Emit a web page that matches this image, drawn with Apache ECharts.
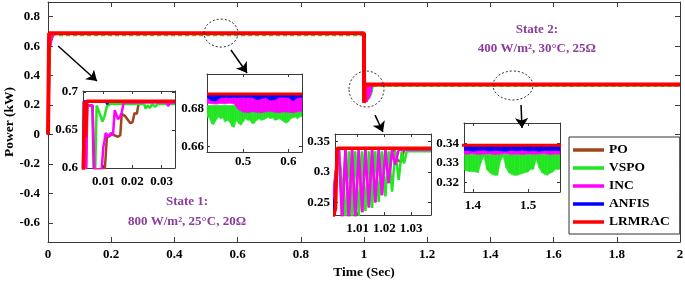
<!DOCTYPE html>
<html>
<head>
<meta charset="utf-8">
<title>MPPT power comparison</title>
<script src="https://cdn.jsdelivr.net/npm/echarts@6/dist/echarts.min.js"></script>
<style>
  html, body { margin: 0; padding: 0; background: #fff; }
  #chart { width: 685px; height: 281px; }
</style>
</head>
<body>
<div id="chart"></div>
<script>
var FONT = '"Liberation Serif", "Times New Roman", serif';
var methods = ['PO', 'VSPO', 'INC', 'ANFIS', 'LRMRAC'];
var colors = ['#a0461e', '#22e622', '#ff00ff', '#0000ff', '#ff0000'];

// ticks / labels
var mainX = [0, 0.2, 0.4, 0.6, 0.8, 1, 1.2, 1.4, 1.6, 1.8, 2];
var mainY = [-0.6, -0.4, -0.2, 0, 0.2, 0.4, 0.6, 0.8];
var in1X = [0.01, 0.02, 0.03], in1Y = [0.6, 0.65, 0.7];
var in2X = [0.5, 0.6], in2Y = [0.66, 0.68];
var in3X = [1.01, 1.02, 1.03], in3Y = [0.25, 0.3, 0.35];
var in4X = [1.4, 1.5], in4Y = [0.32, 0.33, 0.34];

// start-up transient, [time s, power kW]
var startPO = [[0.0040,0.600],[0.0044,0.682],[0.0062,0.682],[0.0067,0.598],[0.0105,0.598],[0.0112,0.640],[0.0130,0.644],[0.0150,0.641],[0.0158,0.643],[0.0163,0.671],[0.0175,0.668],[0.0192,0.659],[0.0200,0.660],[0.0207,0.672],[0.0215,0.671],[0.0222,0.687],[0.0346,0.687]];
var startVSPO = [[0.0072,0.598],[0.0077,0.682],[0.0081,0.683],[0.0097,0.661],[0.0104,0.668],[0.0112,0.681],[0.0118,0.679],[0.0124,0.684],[0.0240,0.684],[0.0245,0.678],[0.0252,0.682],[0.0260,0.679],[0.0268,0.684],[0.0278,0.680],[0.0285,0.684],[0.0346,0.684]];
var startINC = [[0.0041,0.598],[0.0045,0.682],[0.0063,0.682],[0.0069,0.598],[0.0094,0.598],[0.0100,0.628],[0.0104,0.636],[0.0108,0.646],[0.0118,0.641],[0.0126,0.646],[0.0133,0.643],[0.0139,0.676],[0.0144,0.678],[0.0150,0.664],[0.0157,0.667],[0.0163,0.673],[0.0170,0.686],[0.0318,0.686],[0.0322,0.681],[0.0328,0.685],[0.0346,0.686]];
var startANFIS = [[0.0030,0.600],[0.0033,0.6872],[0.0110,0.6872],[0.0113,0.6835],[0.0117,0.6872],[0.0346,0.6872]];
var startLRMRAC = [[0.0031,0.590],[0.0035,0.6875],[0.0039,0.640],[0.0043,0.6875],[0.0346,0.6875]];

// load / irradiance step at 1 s
var stepPO = [[1.0,0.687],[1.0002,0.232],[1.0018,0.300],[1.0030,0.336],[1.0042,0.221],[1.0054,0.336],[1.0067,0.221],[1.0079,0.336],[1.0091,0.223],[1.0104,0.336],[1.0117,0.234],[1.0129,0.336],[1.0142,0.242],[1.0154,0.336],[1.0166,0.250],[1.0179,0.336],[1.0191,0.262],[1.0204,0.336],[1.0216,0.282],[1.0229,0.336],[1.0240,0.334],[1.0250,0.319],[1.0264,0.317],[1.0274,0.337],[1.0375,0.337]];
var stepVSPO = [[1.0,0.684],[1.0003,0.236],[1.0020,0.305],[1.0030,0.334],[1.0054,0.224],[1.0067,0.334],[1.0079,0.224],[1.0091,0.334],[1.0104,0.228],[1.0117,0.334],[1.0129,0.236],[1.0142,0.334],[1.0154,0.241],[1.0166,0.334],[1.0179,0.251],[1.0191,0.334],[1.0204,0.260],[1.0216,0.334],[1.0229,0.268],[1.0241,0.334],[1.0254,0.287],[1.0265,0.334],[1.0274,0.314],[1.0284,0.334],[1.0375,0.334]];
var stepINC = [[1.0,0.686],[1.0002,0.232],[1.0018,0.300],[1.0030,0.336],[1.0042,0.221],[1.0054,0.336],[1.0067,0.221],[1.0079,0.336],[1.0091,0.223],[1.0104,0.336],[1.0117,0.234],[1.0129,0.336],[1.0142,0.242],[1.0154,0.336],[1.0166,0.250],[1.0179,0.336],[1.0191,0.262],[1.0204,0.336],[1.0216,0.282],[1.0229,0.336],[1.0241,0.312],[1.0254,0.3365],[1.0375,0.3365]];
var stepANFIS = [[1.0,0.6872],[1.0001,0.222],[1.0016,0.262],[1.0024,0.3385],[1.0200,0.3385],[1.0206,0.3368],[1.0216,0.3385],[1.0375,0.3385]];
var stepLRMRAC = [[1.0,0.6875],[1.0001,0.215],[1.0017,0.240],[1.0023,0.339],[1.0375,0.339]];

var level1 = [0.687, 0.684, 0.686, 0.6872, 0.6875];
var level2 = [0.337, 0.334, 0.3365, 0.3385, 0.339];

// VSPO ripple as seen at full scale
var vspoRipple1 = [[0.035,0.673],[0.999,0.673]];
var vspoRipple2 = [[1.03,0.328],[2.0,0.328]];

// steady ripple window 1 (state 1)
var win1Fine = [0.420,0.425,0.430,0.435,0.440,0.445,0.450,0.455,0.460,0.465,0.470,0.475,0.480,0.485,0.490,0.495,0.500,0.505,0.510,0.515,0.520,0.525,0.530,0.535,0.540,0.545,0.550,0.555,0.560,0.565,0.570,0.575,0.580,0.585,0.590,0.595,0.600,0.605,0.610,0.615,0.620,0.625,0.630];
var vspoLow1 = [0.6754,0.6750,0.6719,0.6715,0.6737,0.6754,0.6745,0.6750,0.6728,0.6737,0.6728,0.6705,0.6700,0.6737,0.6720,0.6711,0.6728,0.6745,0.6737,0.6737,0.6719,0.6722,0.6737,0.6745,0.6737,0.6740,0.6745,0.6754,0.6745,0.6750,0.6737,0.6740,0.6745,0.6737,0.6728,0.6722,0.6728,0.6745,0.6750,0.6754,0.6745,0.6754,0.6758];
var vspoTop1 = 0.6815;
var win1 = [0.42,0.43,0.44,0.45,0.46,0.47,0.48,0.49,0.50,0.51,0.52,0.53,0.54,0.55,0.56,0.57,0.58,0.59,0.60,0.61,0.62,0.63];
var incLow1 = [0.6826,0.6824,0.6822,0.6825,0.6823,0.6826,0.6822,0.6792,0.6780,0.6777,0.6782,0.6779,0.6776,0.6781,0.6784,0.6779,0.6777,0.6781,0.6779,0.6776,0.6781,0.6784];
var incTop1 = 0.6868;
var anfisLow1 = [0.6858,0.6840,0.6838,0.6856,0.6858,0.6856,0.6858,0.6857,0.6858,0.6856,0.6858,0.6845,0.6850,0.6857,0.6842,0.6846,0.6858,0.6857,0.6858,0.6838,0.6856,0.6858];
var anfisTop1 = 0.6874;

// steady ripple window 2 (state 2)
var win2Fine = [1.385,1.390,1.395,1.400,1.405,1.410,1.415,1.420,1.425,1.430,1.435,1.440,1.445,1.450,1.455,1.460,1.465,1.470,1.475,1.480,1.485,1.490,1.495,1.500,1.505,1.510,1.515,1.520,1.525,1.530,1.535,1.540,1.545,1.550,1.555,1.560];
var vspoLow2 = [0.3263,0.3258,0.3255,0.3255,0.3253,0.3250,0.3301,0.3335,0.3267,0.3250,0.3241,0.3236,0.3236,0.3310,0.3335,0.3275,0.3250,0.3241,0.3236,0.3236,0.3241,0.3245,0.3250,0.3253,0.3267,0.3267,0.3318,0.3275,0.3250,0.3241,0.3236,0.3247,0.3253,0.3267,0.3267,0.3267];
var vspoTop2 = 0.3344;
var win2 = [1.38,1.39,1.40,1.41,1.42,1.43,1.44,1.45,1.46,1.47,1.48,1.49,1.50,1.51,1.52,1.53,1.54,1.55,1.56];
var incLow2 = [0.3346,0.3344,0.3347,0.3343,0.3345,0.3346,0.3343,0.3345,0.3347,0.3344,0.3345,0.3343,0.3346,0.3344,0.3345,0.3347,0.3343,0.3345,0.3344];
var incTop2 = 0.3373;
var anfisLow2 = [0.3362,0.3365,0.3360,0.3363,0.3366,0.3361,0.3364,0.3362,0.3360,0.3365,0.3362,0.3366,0.3361,0.3363,0.3360,0.3364,0.3362,0.3365,0.3361];
var anfisTop2 = 0.3388;

// annotations (data coordinates of the main plot)
var arrowPaths = [
  [[0.032,0.601],[0.155,0.363]],
  [[0.579,0.574],[0.630,0.418]],
  [[1.035,0.132],[1.060,0.017]],
  [[1.497,0.200],[1.500,0.044]]
];
var ellipses = [
  {at: [0.5475, 0.689], rx: 17, ry: 14},
  {at: [1.0079, 0.309], rx: 17.5, ry: 18},
  {at: [1.4715, 0.333], rx: 20, ry: 14.5}
];
var notes = [
  {at: [0.44, -0.459], text: 'State 1:'},
  {at: [0.44, -0.595], text: '800 W/m², 25°C, 20Ω'},
  {at: [1.547, 0.710], text: 'State 2:'},
  {at: [1.547, 0.581], text: '400 W/m², 30°C, 25Ω'}
];

var grids = [
  {left: 48, top: 2, width: 632, height: 240},
  {left: 83, top: 91, width: 92, height: 77},
  {left: 207, top: 74, width: 95, height: 78},
  {left: 335, top: 134, width: 96, height: 81},
  {left: 464, top: 123, width: 96, height: 69}
];
var views = [
  {x: [0, 2], y: [-0.73, 0.9], xt: mainX, yt: mainY, tick: 5, xm: 6, ym: 8},
  {x: [0.003, 0.0346], y: [0.6, 0.701], xt: in1X, yt: in1Y, tick: 3, xm: 7, ym: 5},
  {x: [0.42, 0.63], y: [0.657, 0.698], xt: in2X, yt: in2Y, tick: 3, xm: 3, ym: 3},
  {x: [1.0015, 1.0375], y: [0.2295, 0.3625], xt: in3X, yt: in3Y, tick: 3, xm: 7, ym: 5},
  {x: [1.384, 1.558], y: [0.315, 0.3505], xt: in4X, yt: in4Y, tick: 3, xm: 7, ym: 5}
];

var xAxes = [], yAxes = [];
views.forEach(function (v, g) {
  var line = {show: true, onZero: false, lineStyle: {color: '#3a3a3a', width: 1}};
  var tick = function (vals) {
    return {show: true, inside: true, length: v.tick, customValues: vals, lineStyle: {color: '#3a3a3a'}};
  };
  var label = function (vals, margin) {
    return {show: true, customValues: vals, margin: margin, color: '#000', fontFamily: FONT, fontWeight: 'bold', fontSize: 13};
  };
  var common = {type: 'value', gridIndex: g, splitLine: {show: false}, axisLine: line};
  xAxes.push(Object.assign({}, common, {position: 'bottom', min: v.x[0], max: v.x[1], axisTick: tick(v.xt), axisLabel: label(v.xt, v.xm)}));
  xAxes.push(Object.assign({}, common, {position: 'top', min: v.x[0], max: v.x[1], axisTick: tick(v.xt), axisLabel: {show: false}}));
  yAxes.push(Object.assign({}, common, {position: 'left', min: v.y[0], max: v.y[1], axisTick: tick(v.yt), axisLabel: label(v.yt, v.ym)}));
  yAxes.push(Object.assign({}, common, {position: 'right', min: v.y[0], max: v.y[1], axisTick: tick(v.yt), axisLabel: {show: false}}));
});
Object.assign(xAxes[0], {name: 'Time (Sec)', nameLocation: 'middle', nameGap: 24,
  nameTextStyle: {fontFamily: FONT, fontWeight: 'bold', fontSize: 13.5, color: '#000'}});
Object.assign(yAxes[0], {name: 'Power (kW)', nameLocation: 'middle', nameGap: 31, nameMoveOverlap: false,
  nameTextStyle: {fontFamily: FONT, fontWeight: 'bold', fontSize: 13.5, color: '#000'}});

function line(i, g, data, width, style) {
  return {
    type: 'line', name: methods[i], xAxisIndex: 2 * g, yAxisIndex: 2 * g,
    data: data, symbol: 'none', silent: true, color: colors[i],
    itemStyle: {color: colors[i]},
    lineStyle: Object.assign({color: colors[i], width: width}, style || {})
  };
}
// ripple band between a lower envelope and a top level
function band(i, g, times, lows, top) {
  return {
    type: 'custom', name: methods[i], xAxisIndex: 2 * g, yAxisIndex: 2 * g,
    silent: true, clip: true, color: colors[i],
    encode: {x: 0, y: [1, 2]},
    data: times.map(function (t, k) { return [t, lows[k], top]; }),
    renderItem: function (params, api) {
      var k = params.dataIndexInside;
      if (k + 1 >= params.dataInsideLength) return;
      var a = api.coord([api.value(0, k), api.value(1, k)]);
      var b = api.coord([api.value(0, k + 1), api.value(1, k + 1)]);
      var c = api.coord([api.value(0, k + 1), api.value(2, k + 1)]);
      var d = api.coord([api.value(0, k), api.value(2, k)]);
      return {type: 'polygon', shape: {points: [a, b, c, d]},
        style: {fill: colors[i], stroke: colors[i], lineWidth: 0.6}};
    }
  };
}

var starts = [startPO, startVSPO, startINC, startANFIS, startLRMRAC];
var steps = [stepPO, stepVSPO, stepINC, stepANFIS, stepLRMRAC];
var series = [];

// main plot
methods.forEach(function (m, i) {
  var data = [[0, 0]].concat(starts[i], steps[i], [[2, level2[i]]]);
  series.push(line(i, 0, data, i === 4 ? 4 : 2));
  if (i === 1) {
    series.push(line(1, 0, vspoRipple1, 1.5, {type: [4, 3]}));
    series.push(line(1, 0, vspoRipple2, 1.5, {type: [4, 3]}));
  }
});
// inset 1: start-up
methods.forEach(function (m, i) { series.push(line(i, 1, starts[i], i === 4 ? 3.5 : 2.5)); });
// inset 3: step at 1 s
methods.forEach(function (m, i) { series.push(line(i, 3, steps[i], i === 4 ? 3.5 : 2.5)); });
// inset 2: ripple, state 1
series.push(band(1, 2, win1Fine, vspoLow1, vspoTop1));
series.push(band(2, 2, win1, incLow1, incTop1));
series.push(band(3, 2, win1, anfisLow1, anfisTop1));
series.push(line(4, 2, [[win1[0], level1[4]], [win1[win1.length - 1], level1[4]]], 3));
// inset 4: ripple, state 2
series.push(band(1, 4, win2Fine, vspoLow2, vspoTop2));
series.push(band(2, 4, win2, incLow2, incTop2));
series.push(band(3, 4, win2, anfisLow2, anfisTop2));
series.push(line(4, 4, [[win2[0], level2[4]], [win2[win2.length - 1], level2[4]]], 3));
// arrows
series.push({
  type: 'lines', coordinateSystem: 'cartesian2d', xAxisIndex: 0, yAxisIndex: 0,
  silent: true, symbol: ['none', 'arrow'], symbolSize: 10, z: 5,
  lineStyle: {color: '#000', width: 1.5, opacity: 1},
  data: arrowPaths.map(function (p) { return {coords: p}; })
});

var chart = echarts.init(document.getElementById('chart'));
chart.setOption({
  animation: false,
  backgroundColor: '#fff',
  grid: grids.map(function (g, k) {
    return Object.assign({show: k > 0, backgroundColor: '#fff', borderWidth: 0,
      containLabel: false, outerBoundsMode: 'none'}, g);
  }),
  xAxis: xAxes,
  yAxis: yAxes,
  legend: {
    data: methods, orient: 'vertical', left: 569, top: 137,
    padding: [6, 10, 5, 4], itemGap: 4, itemWidth: 31, itemHeight: 3.5,
    icon: 'rect',
    borderColor: '#333', borderWidth: 1, backgroundColor: '#fff',
    selectedMode: false,
    textStyle: {fontFamily: FONT, fontWeight: 'bold', fontSize: 13.5, color: '#000'}
  },
  series: series
});

var px = function (p) { return chart.convertToPixel({xAxisIndex: 0, yAxisIndex: 0}, p); };
var graphics = [];
ellipses.forEach(function (e) {
  var c = px(e.at);
  graphics.push({type: 'ellipse', z: 50, silent: true,
    shape: {cx: c[0], cy: c[1], rx: e.rx, ry: e.ry},
    style: {fill: 'none', stroke: '#333', lineWidth: 1, lineDash: [2, 2]}});
});
notes.forEach(function (n) {
  var c = px(n.at);
  graphics.push({type: 'text', z: 50, silent: true, x: c[0], y: c[1],
    style: {text: n.text, align: 'center', verticalAlign: 'middle', fill: '#8a3d9c',
      font: 'bold 13px ' + FONT}});
});
chart.setOption({graphic: graphics});
</script>
</body>
</html>
